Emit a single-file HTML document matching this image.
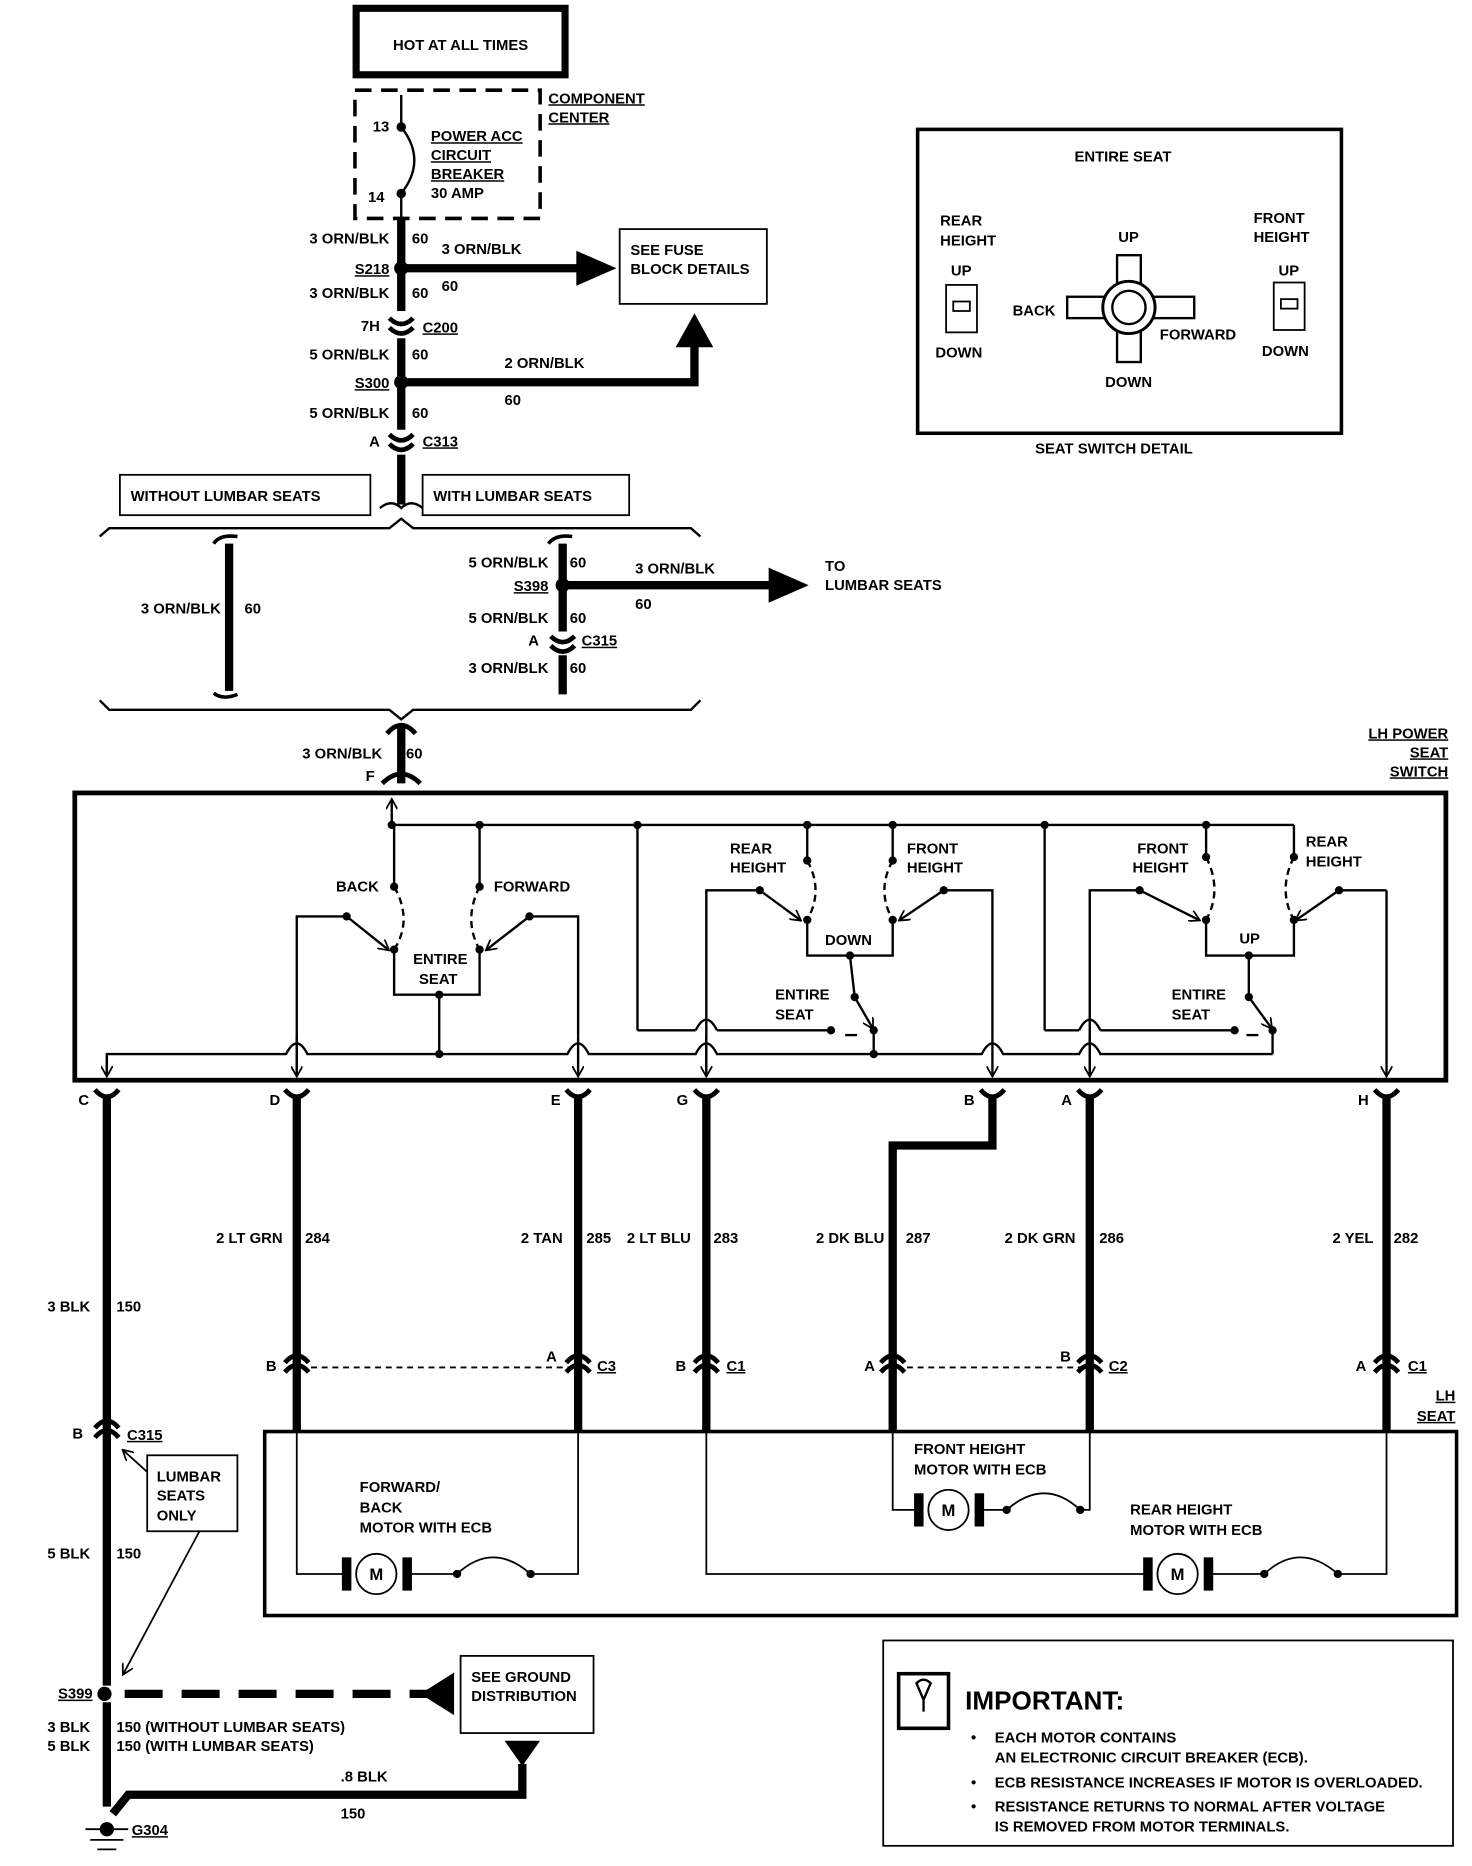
<!DOCTYPE html>
<html><head><meta charset="utf-8"><style>
html,body{margin:0;padding:0;background:#fff}
svg{display:block}
text{font-family:"Liberation Sans",sans-serif;font-size:12.5px;font-weight:bold;fill:#000}
.u{text-decoration:underline}
</style></head><body>
<svg width="1472" height="1866" viewBox="0 0 1240 1572" preserveAspectRatio="none" xmlns="http://www.w3.org/2000/svg">
<defs>
<marker id="ah" markerWidth="10" markerHeight="10" refX="8" refY="5" orient="auto" markerUnits="userSpaceOnUse"><path d="M0,0 L9,5 L0,10" fill="none" stroke="#000" stroke-width="1.5"/></marker>
</defs>
<g fill="none" stroke="#000">
<rect x="300" y="7" width="176" height="56" stroke-width="6"/>
<rect x="299" y="76" width="156" height="108" stroke-width="3" stroke-dasharray="14,8"/>
<path d="M338,107 Q360,135 338,163" stroke-width="2"/>
<line x1="338" y1="107" x2="338" y2="80" stroke-width="2"/>
<line x1="338" y1="163" x2="338" y2="185" stroke-width="2"/>
<line x1="338" y1="185" x2="338" y2="262" stroke-width="7"/>
<line x1="338" y1="285" x2="338" y2="362" stroke-width="7"/>
<line x1="338" y1="383" x2="338" y2="425" stroke-width="7"/>
<path d="M328,268 Q338,278 348,268 M328,276 Q338,286 348,276" stroke-width="4"/>
<path d="M328,366 Q338,376 348,366 M328,374 Q338,384 348,374" stroke-width="4"/>
<line x1="338" y1="226" x2="490" y2="226" stroke-width="7"/>
<path d="M486,212 L518,226 L486,240 Z" fill="#000"/>
<rect x="522" y="193" width="124" height="63" stroke-width="1.5"/>
<path d="M338,322 L585,322 L585,290" stroke-width="7"/>
<path d="M570,292 L585,265 L600,292 Z" fill="#000"/>
<rect x="101" y="400" width="211" height="34" stroke-width="1.5"/>
<rect x="356" y="400" width="174" height="34" stroke-width="1.5"/>
<path d="M320,428 Q330,420 338,428 Q346,420 356,428" stroke-width="2"/>
<path d="M84,452 L92,445 L328,445 L338,437 L348,445 L582,445 L590,452" stroke-width="2"/>
<path d="M84,590 L92,598 L328,598 L338,606 L348,598 L582,598 L590,590" stroke-width="2"/>
<line x1="193" y1="458" x2="193" y2="582" stroke-width="7"/>
<path d="M180,458 Q185,450 200,452 M180,584 Q188,590 200,585" stroke-width="3"/>
<line x1="474" y1="458" x2="474" y2="532" stroke-width="7"/>
<path d="M462,458 Q468,450 482,452" stroke-width="3"/>
<line x1="474" y1="552" x2="474" y2="585" stroke-width="7"/>
<path d="M464,536 Q474,546 484,536 M464,544 Q474,554 484,544" stroke-width="4"/>
<line x1="474" y1="493" x2="650" y2="493" stroke-width="7"/>
<path d="M648,479 L680,493 L648,507 Z" fill="#000"/>
<line x1="338" y1="612" x2="338" y2="660" stroke-width="7"/>
<path d="M326,618 Q338,604 350,618 M322,660 Q338,644 354,660" stroke-width="4"/>
<rect x="773" y="109" width="357" height="256" stroke-width="3"/>
<rect x="797" y="240" width="26" height="40" stroke-width="1.5"/>
<rect x="803" y="254" width="14" height="8" stroke-width="1.5"/>
<rect x="1073" y="238" width="26" height="40" stroke-width="1.5"/>
<rect x="1079" y="252" width="14" height="8" stroke-width="1.5"/>
<rect x="941" y="215" width="20" height="90" stroke-width="2"/>
<rect x="899" y="250" width="107" height="18" stroke-width="2" fill="#fff"/>
<circle cx="951" cy="259" r="22" stroke-width="2.5" fill="#fff"/>
<circle cx="951" cy="259" r="14" stroke-width="2"/>
<rect x="63" y="668" width="1155" height="242" stroke-width="4"/>
<g stroke-width="2">
<line x1="330" y1="695" x2="1090" y2="695"/>
<line x1="330" y1="695" x2="330" y2="674" marker-end="url(#ah)"/>
<line x1="332" y1="695" x2="332" y2="747"/>
<line x1="404" y1="695" x2="404" y2="747"/>
<path d="M332,747 Q348,775 332,800 M404,747 Q390,775 404,800" stroke-dasharray="6,4"/>
<path d="M332,800 L332,838 L404,838 L404,800"/>
<line x1="370" y1="838" x2="370" y2="888"/>
<path d="M250,905 L250,772 L292,772"/><line x1="292" y1="772" x2="327" y2="800" marker-end="url(#ah)"/>
<path d="M487,872 L487,772 L446,772"/><line x1="446" y1="772" x2="410" y2="800" marker-end="url(#ah)"/>
<line x1="537" y1="695" x2="537" y2="868"/>
<line x1="537" y1="868" x2="586" y2="868"/><path d="M586,868 Q595,850 604,868"/><line x1="604" y1="868" x2="700" y2="868"/>
<line x1="680" y1="695" x2="680" y2="725"/><line x1="752" y1="695" x2="752" y2="725"/>
<path d="M680,725 Q694,750 680,775 M752,725 Q738,750 752,775" stroke-dasharray="6,4"/>
<path d="M680,775 L680,805 L752,805 L752,775"/>
<line x1="716" y1="805" x2="720" y2="840"/><line x1="720" y1="840" x2="735" y2="866" marker-end="url(#ah)"/>
<line x1="736" y1="868" x2="736" y2="888"/><line x1="712" y1="872" x2="722" y2="872"/>
<path d="M595,905 L595,750 L640,750"/><line x1="640" y1="750" x2="674" y2="775" marker-end="url(#ah)"/>
<path d="M836,872 L836,750 L795,750"/><line x1="795" y1="750" x2="758" y2="775" marker-end="url(#ah)"/>
<line x1="880" y1="695" x2="880" y2="868"/>
<line x1="880" y1="868" x2="909" y2="868"/><path d="M909,868 Q918,850 927,868"/><line x1="927" y1="868" x2="1040" y2="868"/>
<line x1="1016" y1="695" x2="1016" y2="722"/><line x1="1090" y1="695" x2="1090" y2="722"/>
<path d="M1016,722 Q1030,750 1016,775 M1090,722 Q1076,750 1090,775" stroke-dasharray="6,4"/>
<path d="M1016,775 L1016,805 L1090,805 L1090,775"/>
<line x1="1052" y1="805" x2="1052" y2="840"/><line x1="1052" y1="840" x2="1071" y2="866" marker-end="url(#ah)"/>
<line x1="1072" y1="868" x2="1072" y2="888"/><line x1="1050" y1="872" x2="1060" y2="872"/>
<path d="M918,905 L918,750 L960,750"/><line x1="960" y1="750" x2="1010" y2="775" marker-end="url(#ah)"/>
<path d="M1168,750 L1128,750"/><line x1="1168" y1="750" x2="1168" y2="906" marker-end="url(#ah)"/><line x1="1128" y1="750" x2="1092" y2="775" marker-end="url(#ah)"/>
<path d="M90,906 L90,888 L241,888 Q250,870 259,888 L478,888 Q487,870 496,888 L586,888 Q595,870 604,888 L827,888 Q836,870 845,888 L909,888 Q918,870 927,888 L1072,888"/>
<line x1="487" y1="872" x2="487" y2="906" marker-end="url(#ah)"/>
<line x1="595" y1="872" x2="595" y2="906" marker-end="url(#ah)"/>
<line x1="836" y1="872" x2="836" y2="906" marker-end="url(#ah)"/>
<line x1="918" y1="872" x2="918" y2="906" marker-end="url(#ah)"/>
<line x1="250" y1="872" x2="250" y2="906" marker-end="url(#ah)"/>
<line x1="90" y1="888" x2="90" y2="906" marker-end="url(#ah)"/>
</g>
<g stroke-width="4">
<path d="M80,918 Q90,930 100,918 M240,918 Q250,930 260,918 M477,918 Q487,930 497,918 M585,918 Q595,930 605,918 M826,918 Q836,930 846,918 M908,918 Q918,930 928,918 M1158,918 Q1168,930 1178,918"/>
<path d="M240,1148 Q250,1136 260,1148 M240,1156 Q250,1144 260,1156 M477,1148 Q487,1136 497,1148 M477,1156 Q487,1144 497,1156 M585,1148 Q595,1136 605,1148 M585,1156 Q595,1144 605,1156 M742,1148 Q752,1136 762,1148 M742,1156 Q752,1144 762,1156 M908,1148 Q918,1136 928,1148 M908,1156 Q918,1144 928,1156 M1158,1148 Q1168,1136 1178,1148 M1158,1156 Q1168,1144 1178,1156 M80,1203 Q90,1191 100,1203 M80,1211 Q90,1199 100,1211"/>
</g>
<g stroke-width="7">
<line x1="90" y1="924" x2="90" y2="1420"/>
<line x1="250" y1="924" x2="250" y2="1205"/>
<line x1="487" y1="924" x2="487" y2="1205"/>
<line x1="595" y1="924" x2="595" y2="1205"/>
<path d="M836,924 L836,965 L752,965 L752,1205"/>
<line x1="918" y1="924" x2="918" y2="1205"/>
<line x1="1168" y1="924" x2="1168" y2="1205"/>
<line x1="90" y1="1434" x2="90" y2="1522"/>
<path d="M95,1528 L108,1512 L440,1512 L440,1486"/>
<line x1="105" y1="1427" x2="360" y2="1427" stroke-dasharray="32,16"/>
</g>
<line x1="253" y1="1152" x2="484" y2="1152" stroke-width="1.5" stroke-dasharray="5,4"/>
<line x1="755" y1="1152" x2="915" y2="1152" stroke-width="1.5" stroke-dasharray="5,4"/>
<path d="M355,1427 L382,1410 L382,1444 Z" fill="#000"/>
<path d="M426,1467 L454,1467 L440,1487 Z" fill="#000"/>
<rect x="388" y="1395" width="112" height="65" stroke-width="1.5"/>
<rect x="124" y="1226" width="76" height="64" stroke-width="1.5"/>
<line x1="124" y1="1240" x2="104" y2="1222" marker-end="url(#ah)" stroke-width="1.5"/>
<line x1="168" y1="1290" x2="104" y2="1410" marker-end="url(#ah)" stroke-width="1.5"/>
<path d="M72,1541 L108,1541 M76,1550 L104,1550 M82,1558 L98,1558" stroke-width="1.5"/>
<rect x="223" y="1206" width="1004" height="155" stroke-width="3"/>
<g stroke-width="1.5">
<path d="M250,1205 L250,1326 L290,1326 M344,1326 L385,1326 M447,1326 L487,1326 L487,1205"/>
<path d="M385,1326 Q415,1298 447,1326"/>
<path d="M595,1205 L595,1326 L965,1326 M1020,1326 L1065,1326 M1127,1326 L1168,1326 L1168,1205"/>
<path d="M1065,1326 Q1095,1298 1127,1326"/>
<path d="M752,1205 L752,1272 L772,1272 M826,1272 L848,1272 M910,1272 L918,1272 L918,1205"/>
<path d="M848,1272 Q880,1244 910,1272"/>
<circle cx="317" cy="1326" r="17"/><circle cx="992" cy="1326" r="17"/><circle cx="799" cy="1272" r="17"/>
</g>
<g fill="#000" stroke="none">
<rect x="288" y="1312" width="8" height="28"/><rect x="339" y="1312" width="8" height="28"/>
<rect x="963" y="1312" width="8" height="28"/><rect x="1014" y="1312" width="8" height="28"/>
<rect x="770" y="1258" width="8" height="28"/><rect x="821" y="1258" width="8" height="28"/>
<circle cx="385" cy="1326" r="3.5"/><circle cx="447" cy="1326" r="3.5"/><circle cx="1065" cy="1326" r="3.5"/><circle cx="1127" cy="1326" r="3.5"/><circle cx="848" cy="1272" r="3.5"/><circle cx="910" cy="1272" r="3.5"/>
<circle cx="338" cy="107" r="4"/><circle cx="338" cy="163" r="4"/>
<circle cx="338" cy="226" r="6"/><circle cx="338" cy="322" r="6"/><circle cx="474" cy="493" r="6"/><circle cx="88" cy="1427" r="6"/><circle cx="90" cy="1541" r="6"/>
<circle cx="330" cy="695" r="3.5"/><circle cx="404" cy="695" r="3.5"/><circle cx="537" cy="695" r="3.5"/><circle cx="680" cy="695" r="3.5"/><circle cx="752" cy="695" r="3.5"/><circle cx="880" cy="695" r="3.5"/><circle cx="1016" cy="695" r="3.5"/>
<circle cx="332" cy="747" r="3.5"/><circle cx="404" cy="747" r="3.5"/><circle cx="332" cy="800" r="3.5"/><circle cx="404" cy="800" r="3.5"/><circle cx="370" cy="838" r="3.5"/><circle cx="370" cy="888" r="3.5"/><circle cx="292" cy="772" r="3.5"/><circle cx="446" cy="772" r="3.5"/>
<circle cx="680" cy="725" r="3.5"/><circle cx="752" cy="725" r="3.5"/><circle cx="680" cy="775" r="3.5"/><circle cx="752" cy="775" r="3.5"/><circle cx="716" cy="805" r="3.5"/><circle cx="720" cy="840" r="3.5"/><circle cx="700" cy="868" r="3.5"/><circle cx="736" cy="868" r="3.5"/><circle cx="736" cy="888" r="3.5"/><circle cx="640" cy="750" r="3.5"/><circle cx="795" cy="750" r="3.5"/>
<circle cx="1016" cy="722" r="3.5"/><circle cx="1090" cy="722" r="3.5"/><circle cx="1016" cy="775" r="3.5"/><circle cx="1090" cy="775" r="3.5"/><circle cx="1052" cy="805" r="3.5"/><circle cx="1052" cy="840" r="3.5"/><circle cx="1040" cy="868" r="3.5"/><circle cx="1072" cy="868" r="3.5"/><circle cx="960" cy="750" r="3.5"/><circle cx="1128" cy="750" r="3.5"/>
</g>
<rect x="744" y="1382" width="480" height="173" stroke-width="1.5"/>
<rect x="757" y="1410" width="42" height="46" stroke-width="3"/>
<path d="M772,1418 Q778,1412 784,1418 L778,1432 Z M778,1432 L778,1442" stroke-width="2"/>
</g>
<g>
<text x="388" y="42" text-anchor="middle">HOT AT ALL TIMES</text>
<text x="462" y="87" class="u">COMPONENT</text><text x="462" y="103" class="u">CENTER</text>
<text x="314" y="111">13</text><text x="310" y="170">14</text>
<text x="363" y="119" class="u">POWER ACC</text><text x="363" y="135" class="u">CIRCUIT</text><text x="363" y="151" class="u">BREAKER</text><text x="363" y="167">30 AMP</text>
<text x="328" y="205" text-anchor="end">3 ORN/BLK</text><text x="347" y="205">60</text>
<text x="328" y="231" text-anchor="end" class="u">S218</text>
<text x="372" y="214">3 ORN/BLK</text><text x="372" y="245">60</text>
<text x="531" y="215">SEE FUSE</text><text x="531" y="231">BLOCK DETAILS</text>
<text x="328" y="251" text-anchor="end">3 ORN/BLK</text><text x="347" y="251">60</text>
<text x="320" y="279" text-anchor="end">7H</text><text x="356" y="280" class="u">C200</text>
<text x="328" y="303" text-anchor="end">5 ORN/BLK</text><text x="347" y="303">60</text>
<text x="328" y="327" text-anchor="end" class="u">S300</text>
<text x="425" y="310">2 ORN/BLK</text><text x="425" y="341">60</text>
<text x="328" y="352" text-anchor="end">5 ORN/BLK</text><text x="347" y="352">60</text>
<text x="320" y="376" text-anchor="end">A</text><text x="356" y="376" class="u">C313</text>
<text x="110" y="422">WITHOUT LUMBAR SEATS</text><text x="365" y="422">WITH LUMBAR SEATS</text>
<text x="186" y="517" text-anchor="end">3 ORN/BLK</text><text x="206" y="517">60</text>
<text x="462" y="478" text-anchor="end">5 ORN/BLK</text><text x="480" y="478">60</text>
<text x="462" y="498" text-anchor="end" class="u">S398</text>
<text x="535" y="483">3 ORN/BLK</text><text x="535" y="513">60</text>
<text x="695" y="481">TO</text><text x="695" y="497">LUMBAR SEATS</text>
<text x="462" y="525" text-anchor="end">5 ORN/BLK</text><text x="480" y="525">60</text>
<text x="454" y="544" text-anchor="end">A</text><text x="490" y="544" class="u">C315</text>
<text x="462" y="567" text-anchor="end">3 ORN/BLK</text><text x="480" y="567">60</text>
<text x="322" y="639" text-anchor="end">3 ORN/BLK</text><text x="342" y="639">60</text>
<text x="308" y="658">F</text>
<text x="1220" y="622" text-anchor="end" class="u">LH POWER</text><text x="1220" y="638" text-anchor="end" class="u">SEAT</text><text x="1220" y="654" text-anchor="end" class="u">SWITCH</text>
<text x="946" y="136" text-anchor="middle">ENTIRE SEAT</text>
<text x="792" y="190">REAR</text><text x="792" y="207">HEIGHT</text><text x="801" y="232">UP</text><text x="788" y="301">DOWN</text>
<text x="1056" y="188">FRONT</text><text x="1056" y="204">HEIGHT</text><text x="1077" y="232">UP</text><text x="1063" y="300">DOWN</text>
<text x="942" y="204">UP</text><text x="853" y="266">BACK</text><text x="977" y="286">FORWARD</text><text x="931" y="326">DOWN</text>
<text x="872" y="382">SEAT SWITCH DETAIL</text>
<text x="283" y="751">BACK</text><text x="416" y="751">FORWARD</text>
<text x="348" y="812">ENTIRE</text><text x="353" y="829">SEAT</text>
<text x="615" y="719">REAR</text><text x="615" y="735">HEIGHT</text><text x="764" y="719">FRONT</text><text x="764" y="735">HEIGHT</text>
<text x="695" y="796">DOWN</text><text x="653" y="842">ENTIRE</text><text x="653" y="859">SEAT</text>
<text x="958" y="719">FRONT</text><text x="954" y="735">HEIGHT</text><text x="1100" y="713">REAR</text><text x="1100" y="730">HEIGHT</text>
<text x="1044" y="795">UP</text><text x="987" y="842">ENTIRE</text><text x="987" y="859">SEAT</text>
<text x="66" y="931">C</text><text x="227" y="931">D</text><text x="464" y="931">E</text><text x="570" y="931">G</text><text x="812" y="931">B</text><text x="894" y="931">A</text><text x="1144" y="931">H</text>
<text x="238" y="1047" text-anchor="end">2 LT GRN</text><text x="257" y="1047">284</text>
<text x="474" y="1047" text-anchor="end">2 TAN</text><text x="494" y="1047">285</text>
<text x="582" y="1047" text-anchor="end">2 LT BLU</text><text x="601" y="1047">283</text>
<text x="745" y="1047" text-anchor="end">2 DK BLU</text><text x="763" y="1047">287</text>
<text x="906" y="1047" text-anchor="end">2 DK GRN</text><text x="926" y="1047">286</text>
<text x="1157" y="1047" text-anchor="end">2 YEL</text><text x="1174" y="1047">282</text>
<text x="76" y="1105" text-anchor="end">3 BLK</text><text x="98" y="1105">150</text>
<text x="224" y="1155">B</text><text x="460" y="1147">A</text><text x="503" y="1155" class="u">C3</text>
<text x="569" y="1155">B</text><text x="612" y="1155" class="u">C1</text>
<text x="728" y="1155">A</text><text x="893" y="1147">B</text><text x="934" y="1155" class="u">C2</text>
<text x="1142" y="1155">A</text><text x="1186" y="1155" class="u">C1</text>
<text x="1226" y="1180" text-anchor="end" class="u">LH</text><text x="1226" y="1197" text-anchor="end" class="u">SEAT</text>
<text x="61" y="1212">B</text><text x="107" y="1213" class="u">C315</text>
<text x="132" y="1248">LUMBAR</text><text x="132" y="1264">SEATS</text><text x="132" y="1281">ONLY</text>
<text x="76" y="1313" text-anchor="end">5 BLK</text><text x="98" y="1313">150</text>
<text x="303" y="1257">FORWARD/</text><text x="303" y="1274">BACK</text><text x="303" y="1291">MOTOR WITH ECB</text>
<text x="770" y="1225">FRONT HEIGHT</text><text x="770" y="1242">MOTOR WITH ECB</text>
<text x="952" y="1276">REAR HEIGHT</text><text x="952" y="1293">MOTOR WITH ECB</text>
<text x="317" y="1331" text-anchor="middle" style="font-size:14px">M</text><text x="992" y="1331" text-anchor="middle" style="font-size:14px">M</text><text x="799" y="1277" text-anchor="middle" style="font-size:14px">M</text>
<text x="78" y="1431" text-anchor="end" class="u">S399</text>
<text x="397" y="1417">SEE GROUND</text><text x="397" y="1433">DISTRIBUTION</text>
<text x="76" y="1459" text-anchor="end">3 BLK</text><text x="98" y="1459">150  (WITHOUT LUMBAR SEATS)</text>
<text x="76" y="1475" text-anchor="end">5 BLK</text><text x="98" y="1475">150  (WITH LUMBAR SEATS)</text>
<text x="287" y="1501">.8 BLK</text><text x="287" y="1532">150</text>
<text x="111" y="1546" class="u">G304</text>
<text x="813" y="1440" style="font-size:22px">IMPORTANT:</text>
<text x="818" y="1468">•</text><text x="838" y="1468">EACH MOTOR CONTAINS</text>
<text x="838" y="1485">AN ELECTRONIC CIRCUIT BREAKER (ECB).</text>
<text x="818" y="1506">•</text><text x="838" y="1506">ECB RESISTANCE INCREASES IF MOTOR IS OVERLOADED.</text>
<text x="818" y="1526">•</text><text x="838" y="1526">RESISTANCE RETURNS TO NORMAL AFTER VOLTAGE</text>
<text x="838" y="1543">IS REMOVED FROM MOTOR TERMINALS.</text>
</g>
</svg>
</body></html>
